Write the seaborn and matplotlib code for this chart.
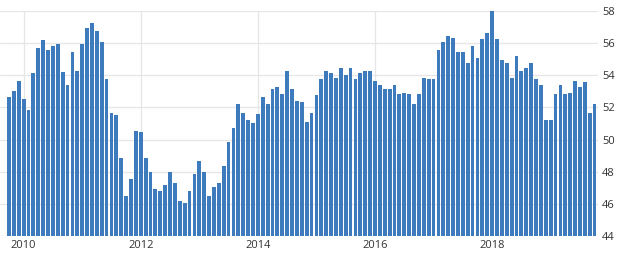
import matplotlib
matplotlib.use("Agg")
import matplotlib.pyplot as plt
import seaborn as sns
import pandas as pd
import numpy as np

# Monthly values, Oct 2009 .. Oct 2019
values = [
    52.65, 53.04, 53.66, 52.55, 51.86, 54.16, 55.67, 56.22, 55.56, 55.83,
    55.97, 54.18, 53.39, 55.46, 54.28, 55.97, 56.95, 57.24, 56.74, 56.06,
    53.76, 51.64, 51.51, 48.85, 46.47, 47.55, 50.56, 50.48, 48.85, 47.96,
    46.95, 46.78, 47.15, 47.96, 47.30, 46.16, 46.04, 46.78, 47.86, 48.68,
    47.96, 46.47, 47.03, 47.28, 48.33, 49.84, 50.75, 52.24, 51.64, 51.24,
    51.06, 51.62, 52.65, 52.24, 53.14, 53.25, 52.83, 54.28, 53.14, 52.42,
    52.34, 51.12, 51.64, 52.75, 53.76, 54.28, 54.16, 53.81, 54.45, 54.03,
    54.45, 53.76, 54.16, 54.28, 54.28, 53.66, 53.37, 53.14, 53.14, 53.37,
    52.83, 52.92, 52.86, 52.24, 52.86, 53.81, 53.76, 53.76, 55.56, 56.06,
    56.47, 56.33, 55.46, 55.46, 54.74, 55.85, 55.07, 56.24, 56.64, 58.00,
    56.24, 54.94, 54.74, 53.81, 55.21, 54.28, 54.45, 54.74, 53.76, 53.41,
    51.24, 51.24, 52.86, 53.37, 52.86, 52.92, 53.66, 53.25, 53.56, 51.64,
    52.24,
]
months = pd.date_range("2009-10-01", periods=len(values), freq="MS")
year_labels = ["2010", "2012", "2014", "2016", "2018"]
y_ticks = [44, 46, 48, 50, 52, 54, 56, 58]

df = pd.DataFrame({"month": months.strftime("%Y-%m"), "value": values})

sns.set_theme(style="white")
plt.rcParams["font.family"] = ["Open Sans", "DejaVu Sans"]

fig = plt.figure(figsize=(6.2, 2.61), dpi=100)
ax = fig.add_axes([0.0, 25 / 261, 598 / 620, 225 / 261])

sns.barplot(data=df, x="month", y="value", color="#3d7bbd", saturation=1,
            width=0.78, linewidth=0, ax=ax, zorder=2)

ax.set_ylim(44, 58)
ax.set_xlim(-1.84, len(values) - 1 + 0.7)

month_list = list(df["month"])
tick_pos = [month_list.index(f"{y}-01") for y in year_labels]
ax.set_xticks(tick_pos)
ax.set_xticklabels(year_labels)
ax.set_yticks(y_ticks)
ax.set_yticklabels([str(v) for v in y_ticks])
ax.yaxis.tick_right()

ax.tick_params(axis="both", length=0, labelsize=8, colors="#333333")
ax.tick_params(axis="x", pad=3)
ax.tick_params(axis="y", pad=3)

ax.grid(True, axis="both", color="#e6e6e6", linewidth=0.9, zorder=0)
ax.set_axisbelow(True)
for s in ax.spines.values():
    s.set_visible(False)
ax.set_xlabel("")
ax.set_ylabel("")

fig.savefig("out.png", dpi=100)
